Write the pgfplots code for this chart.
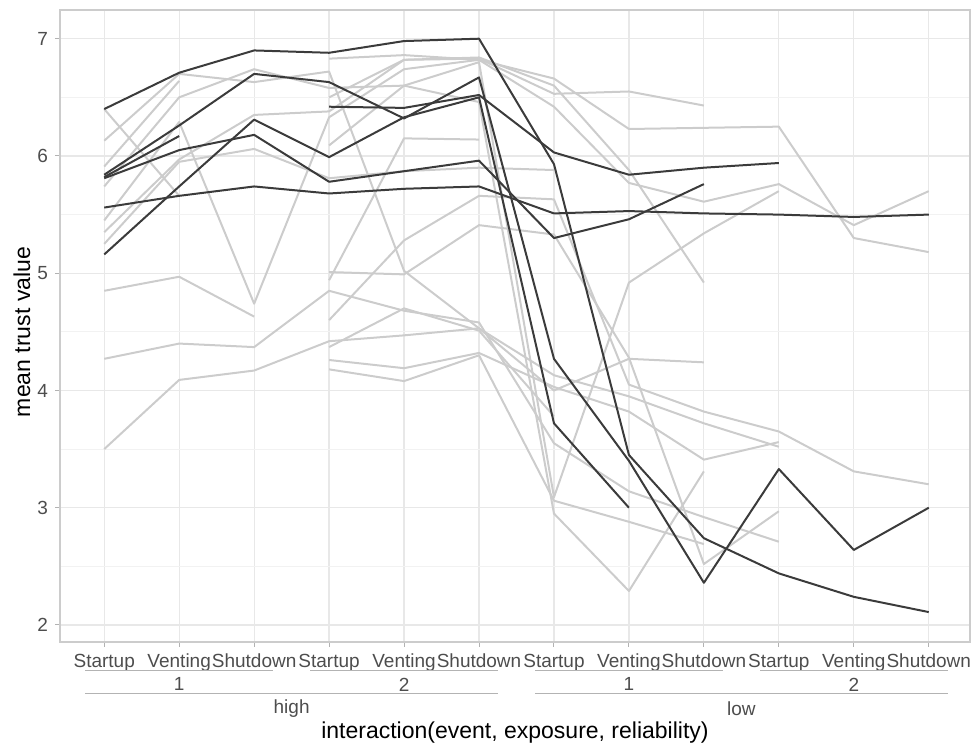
\documentclass[border=0pt]{standalone}
\usepackage{fontspec}
\setmainfont{Liberation Sans}
\usepackage{pgfplots}
\pgfplotsset{compat=1.18}
\definecolor{indiv}{HTML}{CCCCCC}
\definecolor{grp}{HTML}{3B3B3B}
\definecolor{txt}{HTML}{4D4D4D}
\definecolor{guide}{HTML}{B3B3B3}
\tikzset{
  guideline/.style={color=guide, line width=0.5pt},
  guidetext/.style={font=\fontsize{9.5}{11}\selectfont, text=txt},
}

\begin{document}
\begin{tikzpicture}
\useasboundingbox (-30pt,-52.5pt) rectangle (455.5pt,321pt);
\begin{axis}[
  at={(0,0)}, anchor=south west, scale only axis,
  width=455pt, height=316pt,
  xmin=0.41, xmax=12.55, ymin=1.855, ymax=7.245,
  xtick={1,...,12},
  xticklabels={Startup,Venting,Shutdown,Startup,Venting,Shutdown,Startup,Venting,Shutdown,Startup,Venting,Shutdown},
  ytick={2,...,7}, minor ytick={2.5,3.5,4.5,5.5,6.5},
  grid=both,
  major grid style={color=black!9, line width=0.6pt},
  minor grid style={color=black!5, line width=0.45pt},
  axis line style={black!20, line width=0.6pt},
  tick align=outside, xtick pos=bottom, ytick pos=left,
  major tick length=2.5pt, minor tick length=0pt,
  tick style={black!30, line width=0.5pt},
  ticklabel style={font=\fontsize{9.5}{11}\selectfont, text=txt},
  /pgf/number format/assume math mode=true,
  ylabel={mean trust value},
  every axis y label/.style={at={(axis description cs:0,0.5)}, xshift=-19pt, yshift=-3pt, rotate=90, anchor=center, font=\fontsize{11.5}{13}\selectfont},
  clip=false,
  indiv/.style={color=indiv, line width=1pt, line join=round},
  grp/.style={color=grp, line width=1pt, line join=round},
]
% individual participants
\addplot[indiv] coordinates {(1,6.40)(2,5.66)};
\addplot[indiv] coordinates {(1,6.13)(2,6.70)(3,6.63)(4,6.72)(5,5.02)(6,4.53)(7,4.00)(8,4.27)(9,4.24)};
\addplot[indiv] coordinates {(1,5.91)(2,6.64)};
\addplot[indiv] coordinates {(1,5.74)(2,6.50)(3,6.74)(4,6.58)(5,6.60)(6,6.80)(7,3.09)(8,4.92)(9,5.34)(10,5.70)};
\addplot[indiv] coordinates {(1,5.45)(2,6.29)(3,4.74)(4,6.33)(5,6.74)(6,6.82)(7,6.42)(8,5.77)(9,5.61)(10,5.76)(11,5.41)(12,5.70)};
\addplot[indiv] coordinates {(1,5.35)(2,5.97)(3,6.35)(4,6.38)(5,6.82)(6,6.84)(7,6.60)(8,5.88)(9,4.92)};
\addplot[indiv] coordinates {(1,5.25)(2,5.95)(3,6.06)(4,5.81)(5,5.87)(6,5.90)(7,5.88)};
\addplot[indiv] coordinates {(1,4.85)(2,4.97)(3,4.63)};
\addplot[indiv] coordinates {(1,4.27)(2,4.40)(3,4.37)(4,4.85)(5,4.68)(6,4.58)(7,3.55)(8,3.14)(9,2.92)(10,2.71)};
\addplot[indiv] coordinates {(1,3.50)(2,4.09)(3,4.17)(4,4.42)(5,4.47)(6,4.53)(7,4.13)(8,3.95)(9,3.72)(10,3.52)};
\addplot[indiv] coordinates {(4,6.83)(5,6.86)(6,6.82)(7,6.66)(8,6.23)(9,6.24)(10,6.25)(11,5.30)(12,5.18)};
\addplot[indiv] coordinates {(4,6.50)(5,6.82)(6,6.83)(7,6.53)(8,6.55)(9,6.43)};
\addplot[indiv] coordinates {(4,5.01)(5,4.99)(6,5.41)(7,5.33)(8,4.28)(9,2.52)(10,2.97)};
\addplot[indiv] coordinates {(4,4.94)(5,6.15)(6,6.14)};
\addplot[indiv] coordinates {(4,4.60)(5,5.28)(6,5.66)(7,5.63)(8,4.05)(9,3.82)(10,3.65)(11,3.31)(12,3.20)};
\addplot[indiv] coordinates {(4,4.37)(5,4.70)(6,4.51)(7,3.78)};
\addplot[indiv] coordinates {(4,4.26)(5,4.19)(6,4.32)(7,4.03)(8,3.82)(9,3.41)(10,3.56)};
\addplot[indiv] coordinates {(4,4.18)(5,4.08)(6,4.30)(7,3.06)(8,2.88)(9,2.69)};
\addplot[indiv] coordinates {(4,6.09)(5,6.60)(6,6.46)(7,2.95)(8,2.29)(9,3.31)};
% group means
\addplot[grp] coordinates {(1,6.40)(2,6.71)(3,6.90)(4,6.88)(5,6.98)(6,7.00)(7,5.93)(8,3.45)(9,2.74)(10,2.44)(11,2.24)(12,2.11)};
\addplot[grp] coordinates {(1,5.84)(2,6.26)(3,6.70)(4,6.63)(5,6.32)(6,6.67)(7,4.27)(8,3.40)(9,2.36)(10,3.33)(11,2.64)(12,3.00)};
\addplot[grp] coordinates {(1,5.82)(2,6.17)};
\addplot[grp] coordinates {(1,5.81)(2,6.05)(3,6.18)(4,5.78)(5,5.87)(6,5.96)(7,5.30)(8,5.46)(9,5.76)};
\addplot[grp] coordinates {(1,5.56)(2,5.66)(3,5.74)(4,5.68)(5,5.72)(6,5.74)(7,5.51)(8,5.53)(9,5.51)(10,5.50)(11,5.48)(12,5.50)};
\addplot[grp] coordinates {(1,5.16)(2,5.74)(3,6.31)(4,5.99)(5,6.33)(6,6.50)(7,3.72)(8,3.00)};
\addplot[grp] coordinates {(4,6.42)(5,6.41)(6,6.52)(7,6.03)(8,5.84)(9,5.90)(10,5.94)};

% nested category guide: exposure level
\draw[guideline] (axis cs:0.75,1.608) -- (axis cs:3.25,1.608);
\draw[guideline] (axis cs:3.75,1.608) -- (axis cs:6.25,1.608);
\draw[guideline] (axis cs:6.75,1.608) -- (axis cs:9.25,1.608);
\draw[guideline] (axis cs:9.75,1.608) -- (axis cs:12.25,1.608);
\node[guidetext] at (axis cs:2,1.493) {1};
\node[guidetext] at (axis cs:5,1.493) {2};
\node[guidetext] at (axis cs:8,1.493) {1};
\node[guidetext] at (axis cs:11,1.493) {2};
% nested category guide: reliability
\draw[guideline] (axis cs:0.75,1.418) -- (axis cs:6.25,1.418);
\draw[guideline] (axis cs:6.75,1.418) -- (axis cs:12.25,1.418);
\node[guidetext] at (axis cs:3.5,1.284) {high};
\node[guidetext] at (axis cs:9.5,1.284) {low};
\node[font=\fontsize{11.5}{13}\selectfont] at (axis cs:6.48,1.079) {interaction(event, exposure, reliability)};
\end{axis}
\end{tikzpicture}
\end{document}
